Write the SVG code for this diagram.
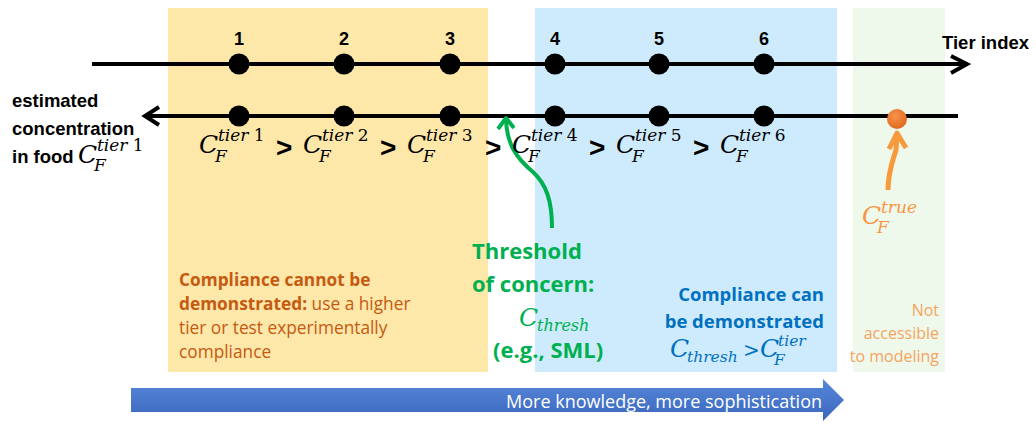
<svg xmlns="http://www.w3.org/2000/svg" width="1036" height="425" viewBox="0 0 1036 425">
<defs>
<linearGradient id="bg" x1="0" y1="0" x2="0" y2="1">
<stop offset="0" stop-color="#5687DA"/>
<stop offset="1" stop-color="#3B67BC"/>
</linearGradient>
<radialGradient id="og" cx="0.4" cy="0.35" r="0.7">
<stop offset="0" stop-color="#F6944A"/>
<stop offset="1" stop-color="#E0661E"/>
</radialGradient>
<style>
.ax{stroke:#000;stroke-width:4;fill:none}
.dot{fill:#000}
.num{font-family:"Liberation Sans",Arial,sans-serif;font-weight:bold;font-size:18px;text-anchor:middle;fill:#000}
.lbl{font-family:"Liberation Sans",Arial,sans-serif;font-weight:bold;font-size:18.5px;fill:#000}
.m{font-family:"DejaVu Serif",serif;font-style:italic;font-weight:normal;font-size:25px}
.s{font-size:17px}
.up{font-style:normal}
.gt{font-family:"Liberation Sans",Arial,sans-serif;font-weight:bold;font-size:28px;fill:#000}
.ca{font-family:"Open Sans",sans-serif;font-size:17.3px;fill:#C55A11}
.b{font-weight:bold}
.gr{font-family:"Open Sans",sans-serif;font-weight:bold;font-size:22px;fill:#00B050}
.grm{fill:#00B050}
.bl{font-family:"Open Sans",sans-serif;font-weight:bold;font-size:18.5px;fill:#0070C0;text-anchor:end}
.blm{fill:#0070C0}
.org{fill:#F79646}
.na{font-family:"Open Sans",sans-serif;font-size:16px;fill:#F7A35C;text-anchor:end}
</style>
</defs>
<rect width="1036" height="425" fill="#fff"/>
<g id="regions">
<rect id="zone-cannot" x="168" y="8" width="320" height="364" fill="#FDE7A9"/>
<rect id="zone-can" x="535" y="8" width="302" height="364" fill="#CDEBFC"/>
<rect id="zone-true" x="853" y="8" width="92" height="364" fill="#EEF9EC"/>
</g>
<g id="connectors">
<path class="ax" d="M92,64 H966 M951,56 L967,64 L951,73"/>
<path class="ax" d="M146,116 H958 M159,107 L145,116 L159,125"/>
<path d="M552,228 C552,200 546,184 533,172 C515,157 507,143 506,120" stroke="#00B050" stroke-width="4" fill="none"/>
<path d="M498,129 L506,118 L514,128" stroke="#00B050" stroke-width="4" fill="none" stroke-linejoin="round"/>
<path d="M888,190 C888,172 893,160 896,150 L897,134" stroke="#F79A3B" stroke-width="5" fill="none"/>
<path d="M889,149 L897,133 L906,148" stroke="#F79A3B" stroke-width="5" fill="none" stroke-linejoin="round"/>
</g>
<g id="tier-nodes">
<g id="tier1"><circle class="dot" cx="239" cy="64" r="10.5"/><circle class="dot" cx="239" cy="116" r="10.5"/><text class="num" x="239" y="45">1</text></g>
<g id="tier2"><circle class="dot" cx="344" cy="64" r="10.5"/><circle class="dot" cx="344" cy="116" r="10.5"/><text class="num" x="344" y="45">2</text></g>
<g id="tier3"><circle class="dot" cx="450" cy="64" r="10.5"/><circle class="dot" cx="450" cy="116" r="10.5"/><text class="num" x="450" y="45">3</text></g>
<g id="tier4"><circle class="dot" cx="555" cy="64" r="10.5"/><circle class="dot" cx="555" cy="116" r="10.5"/><text class="num" x="555" y="45">4</text></g>
<g id="tier5"><circle class="dot" cx="659" cy="64" r="10.5"/><circle class="dot" cx="659" cy="116" r="10.5"/><text class="num" x="659" y="45">5</text></g>
<g id="tier6"><circle class="dot" cx="764" cy="64" r="10.5"/><circle class="dot" cx="764" cy="116" r="10.5"/><text class="num" x="764" y="45">6</text></g>
<g id="true-value"><circle cx="897" cy="119" r="10" fill="url(#og)"/></g>
</g>
<g id="axis-labels">
<text class="lbl" x="942" y="49">Tier index</text>
<text class="lbl" x="12" y="107">estimated</text>
<text class="lbl" x="12" y="135">concentration</text>
<text class="lbl" x="12" y="163">in food <tspan class="m" x="78">C</tspan><tspan class="m s" x="94" y="171">F</tspan><tspan class="m s" x="97" y="151">tier <tspan class="up">1</tspan></tspan></text>
</g>
<g id="tier-formulas">
<text class="m" x="199" y="153">C<tspan class="s" x="215" y="162">F</tspan><tspan class="s" x="218" y="141">tier <tspan class="up">1</tspan></tspan></text>
<text class="gt" x="276" y="157">&gt;</text>
<text class="m" x="303" y="153">C<tspan class="s" x="319" y="162">F</tspan><tspan class="s" x="322" y="141">tier <tspan class="up">2</tspan></tspan></text>
<text class="gt" x="380" y="157">&gt;</text>
<text class="m" x="407" y="153">C<tspan class="s" x="423" y="162">F</tspan><tspan class="s" x="426" y="141">tier <tspan class="up">3</tspan></tspan></text>
<text class="gt" x="485" y="157">&gt;</text>
<text class="m" x="512" y="153">C<tspan class="s" x="528" y="162">F</tspan><tspan class="s" x="531" y="141">tier <tspan class="up">4</tspan></tspan></text>
<text class="gt" x="589" y="157">&gt;</text>
<text class="m" x="616" y="153">C<tspan class="s" x="632" y="162">F</tspan><tspan class="s" x="635" y="141">tier <tspan class="up">5</tspan></tspan></text>
<text class="gt" x="693" y="157">&gt;</text>
<text class="m" x="720" y="153">C<tspan class="s" x="736" y="162">F</tspan><tspan class="s" x="739" y="141">tier <tspan class="up">6</tspan></tspan></text>
</g>
<g id="true-label">
<text class="m org" x="862" y="224">C<tspan class="s" x="877" y="233">F</tspan><tspan class="s" x="881" y="213">true</tspan></text>
</g>
<g id="cannot-text">
<text class="ca" x="179" y="286"><tspan class="b">Compliance cannot be</tspan></text>
<text class="ca" x="179" y="310"><tspan class="b">demonstrated:</tspan> use a higher</text>
<text class="ca" x="179" y="334">tier or test experimentally</text>
<text class="ca" x="179" y="358">compliance</text>
</g>
<g id="threshold">
<text class="gr" x="472" y="259">Threshold</text>
<text class="gr" x="472" y="292">of concern:</text>
<text class="m grm" x="519" y="326" font-size="24">C<tspan x="537" y="331" font-size="16">thresh</tspan></text>
<text class="gr" x="493" y="358">(e.g., SML)</text>
</g>
<g id="can-text">
<text class="bl" x="824" y="301">Compliance can</text>
<text class="bl" x="824" y="328">be demonstrated</text>
<text class="m blm" x="670" y="357" font-size="22.5">C<tspan x="687" y="362" font-size="15.5">thresh</tspan><tspan class="up" x="743" y="357" font-size="20">&gt;</tspan><tspan x="760" y="357">C</tspan><tspan x="774" y="365" font-size="15.5">F</tspan><tspan x="778" y="346" font-size="15.5">tier</tspan></text>
</g>
<g id="not-accessible">
<text class="na" x="939" y="316">Not</text>
<text class="na" x="939" y="339">accessible</text>
<text class="na" x="939" y="362">to modeling</text>
</g>
<g id="knowledge-arrow">
<path d="M131,388 H823 V379 L844,400 L823,421 V412 H131 Z" fill="url(#bg)"/>
<text x="822" y="408" font-family="Open Sans,sans-serif" font-size="18" fill="#fff" text-anchor="end">More knowledge, more sophistication</text>
</g>
</svg>
